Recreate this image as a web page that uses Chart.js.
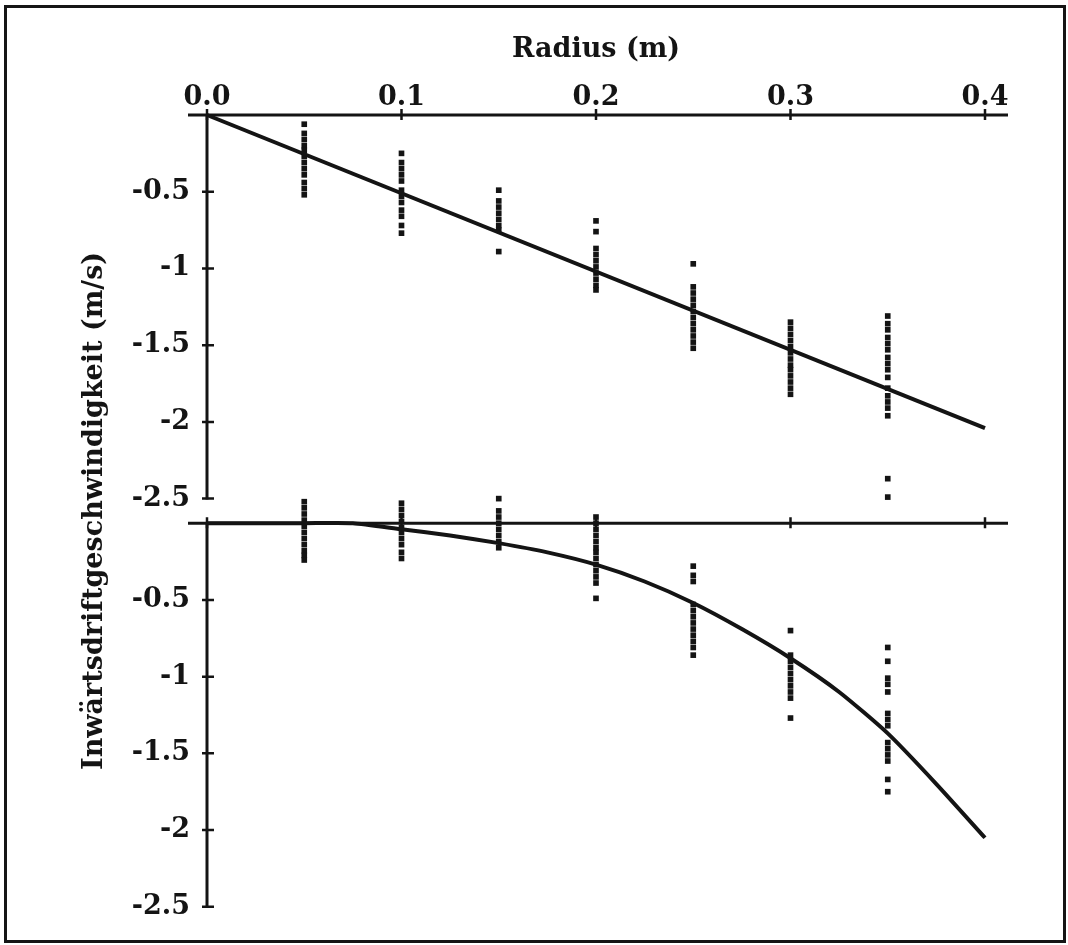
<!DOCTYPE html>
<html>
<head>
<meta charset="utf-8">
<script src="https://cdn.jsdelivr.net/npm/chart.js@4.4.1/dist/chart.umd.min.js"></script>
<style>
  body { margin: 0; background: #fff; }
  #frame {
    position: absolute; left: 4px; top: 5px;
    width: 1056px; height: 932px;
    border: 3px solid #151515;
  }
</style>
</head>
<body>
<div id="frame"><canvas id="driftChart"></canvas></div>
<script>
// radii where the samples were taken (m)
var radii = [0.05, 0.1, 0.15, 0.2, 0.25, 0.3, 0.35];

// upper panel: measured inward drift (m/s), one list per radius
var upperSamples = [
  [-0.06, -0.12, -0.16, -0.2, -0.23, -0.27, -0.31, -0.35, -0.39, -0.44, -0.48, -0.52],
  [-0.25, -0.31, -0.35, -0.39, -0.43, -0.49, -0.53, -0.57, -0.62, -0.66, -0.72, -0.77],
  [-0.49, -0.56, -0.6, -0.64, -0.68, -0.72, -0.75, -0.89],
  [-0.69, -0.76, -0.87, -0.91, -0.95, -0.99, -1.03, -1.07, -1.11, -1.14],
  [-0.97, -1.12, -1.16, -1.2, -1.24, -1.28, -1.32, -1.36, -1.4, -1.44, -1.48, -1.52],
  [-1.35, -1.39, -1.43, -1.47, -1.51, -1.55, -1.59, -1.63, -1.66, -1.7, -1.74, -1.78, -1.82],
  [-1.31, -1.36, -1.4, -1.45, -1.49, -1.53, -1.58, -1.62, -1.66, -1.71, -1.78, -1.83, -1.87, -1.91, -1.96, -2.37, -2.49]
];

// lower panel: measured inward drift (m/s)
var lowerSamples = [
  [0.14, 0.1, 0.06, 0.02, -0.02, -0.06, -0.1, -0.14, -0.18, -0.21, -0.24],
  [0.13, 0.09, 0.05, 0.01, -0.03, -0.06, -0.1, -0.14, -0.19, -0.23],
  [0.16, 0.08, 0.04, 0, -0.04, -0.08, -0.12, -0.16],
  [0.04, 0, -0.04, -0.08, -0.12, -0.16, -0.19, -0.23, -0.27, -0.31, -0.35, -0.39, -0.49],
  [-0.28, -0.34, -0.38, -0.53, -0.57, -0.61, -0.65, -0.69, -0.73, -0.77, -0.81, -0.86],
  [-0.7, -0.86, -0.9, -0.94, -0.98, -1.02, -1.06, -1.1, -1.14, -1.27],
  [-0.81, -0.9, -1.01, -1.05, -1.1, -1.24, -1.28, -1.32, -1.43, -1.47, -1.51, -1.55, -1.67, -1.75]
];

// model curves
var upperFitX = [0, 0.4];
var upperFitY = [0, -2.04];
var lowerFitX = [0, 0.025, 0.05, 0.075, 0.1, 0.125, 0.15, 0.175, 0.2, 0.225, 0.25, 0.275, 0.3, 0.325, 0.35, 0.375, 0.4];
var lowerFitY = [0, 0, 0, 0, -0.04, -0.08, -0.13, -0.19, -0.27, -0.38, -0.52, -0.69, -0.88, -1.1, -1.37, -1.7, -2.05];

var xTicks = [0, 0.1, 0.2, 0.3, 0.4];
var yTicks = [-0.5, -1, -1.5, -2, -2.5];

var ink = "#141414";
var serif = "'DejaVu Serif', 'Liberation Serif', serif";

function toPoints(xs, ys) {
  var pts = [];
  for (var i = 0; i < xs.length; i++) pts.push({ x: xs[i], y: ys[i] });
  return pts;
}

function samplePoints(samples) {
  var pts = [];
  for (var i = 0; i < radii.length; i++) {
    for (var j = 0; j < samples[i].length; j++) {
      pts.push({ x: radii[i], y: samples[i][j] });
    }
  }
  return pts;
}

function keepTicks(list) {
  return function(scale) {
    scale.ticks = list.map(function(v) { return { value: v }; });
  };
}

// axes drawn as lines through zero with crossing tick marks
var axisLines = {
  id: "axisLines",
  beforeDatasetsDraw: function(chart) {
    var ctx = chart.ctx;
    var x = chart.scales.x;
    var x0 = x.getPixelForValue(0);
    var xEnd = x.getPixelForValue(0.4);
    ctx.save();
    ctx.strokeStyle = ink;
    ["yTop", "yBot"].forEach(function(id) {
      var ys = chart.scales[id];
      var yZero = ys.getPixelForValue(0);
      var yLow = ys.getPixelForValue(-2.5);
      ctx.lineWidth = 3;
      ctx.beginPath();
      ctx.moveTo(x0 - 19, yZero);
      ctx.lineTo(xEnd + 23, yZero);
      ctx.moveTo(x0, yZero);
      ctx.lineTo(x0, yLow + 1);
      ctx.stroke();
      ctx.lineWidth = 2.5;
      ctx.beginPath();
      xTicks.forEach(function(v) {
        var px = x.getPixelForValue(v);
        ctx.moveTo(px, yZero - 6);
        ctx.lineTo(px, yZero + 5);
      });
      yTicks.forEach(function(v) {
        var py = ys.getPixelForValue(v);
        ctx.moveTo(x0 - 5, py);
        ctx.lineTo(x0 + 7, py);
      });
      ctx.stroke();
    });
    ctx.restore();
  }
};

var textFont = { family: serif, size: 27, weight: "bold" };

new Chart(document.getElementById("driftChart"), {
  type: "scatter",
  data: {
    datasets: [
      {
        data: toPoints(upperFitX, upperFitY),
        yAxisID: "yTop",
        showLine: true,
        borderColor: ink,
        borderWidth: 4,
        pointRadius: 0,
        clip: false
      },
      {
        data: toPoints(lowerFitX, lowerFitY),
        yAxisID: "yBot",
        showLine: true,
        borderColor: ink,
        borderWidth: 4,
        pointRadius: 0,
        tension: 0.2,
        clip: false
      },
      {
        data: samplePoints(upperSamples),
        yAxisID: "yTop",
        pointStyle: "rect",
        pointRadius: 4,
        pointBorderWidth: 0,
        backgroundColor: ink,
        clip: false
      },
      {
        data: samplePoints(lowerSamples),
        yAxisID: "yBot",
        pointStyle: "rect",
        pointRadius: 4,
        pointBorderWidth: 0,
        backgroundColor: ink,
        clip: false
      }
    ]
  },
  options: {
    responsive: true,
    maintainAspectRatio: false,
    animation: false,
    layout: { padding: { left: 68, top: 22, right: 78, bottom: 33 } },
    plugins: { legend: { display: false }, tooltip: { enabled: false } },
    scales: {
      x: {
        type: "linear",
        position: "top",
        min: 0,
        max: 0.4,
        afterFit: function(s) { s.height = 85; },
        afterBuildTicks: keepTicks(xTicks),
        grid: { display: false, drawTicks: false },
        border: { display: false },
        ticks: {
          color: ink,
          font: textFont,
          padding: 1,
          maxRotation: 0,
          callback: function(v) { return v.toFixed(1); }
        },
        title: {
          display: true,
          text: "Radius (m)",
          color: ink,
          font: textFont,
          padding: { top: 4, bottom: 2 }
        }
      },
      // left boxes are laid out in reverse order: listed last = outermost / top of stack
      yBot: {
        type: "linear",
        position: "left",
        stack: "panels",
        stackWeight: 2.66,
        min: -2.5,
        max: 0.16,
        afterFit: function(s) { s.width = 82; },
        afterBuildTicks: keepTicks(yTicks),
        grid: { display: false, drawTicks: false },
        border: { display: false },
        ticks: {
          color: ink,
          font: textFont,
          padding: 17,
          callback: function(v) { return String(v); }
        }
      },
      yTop: {
        type: "linear",
        position: "left",
        stack: "panels",
        stackWeight: 2.5,
        min: -2.5,
        max: 0,
        afterFit: function(s) { s.width = 82; },
        afterBuildTicks: keepTicks(yTicks),
        grid: { display: false, drawTicks: false },
        border: { display: false },
        ticks: {
          color: ink,
          font: textFont,
          padding: 17,
          callback: function(v) { return String(v); }
        }
      },
      yTitle: {
        type: "linear",
        position: "left",
        min: -2.5,
        max: 0,
        afterFit: function(s) { s.width = 50; },
        grid: { display: false },
        border: { display: false },
        ticks: { display: false },
        title: {
          display: true,
          text: "Inwärtsdriftgeschwindigkeit (m/s)",
          color: ink,
          font: textFont,
          padding: { top: 4, bottom: 4 }
        }
      }
    }
  },
  plugins: [axisLines]
});
</script>
</body>
</html>
